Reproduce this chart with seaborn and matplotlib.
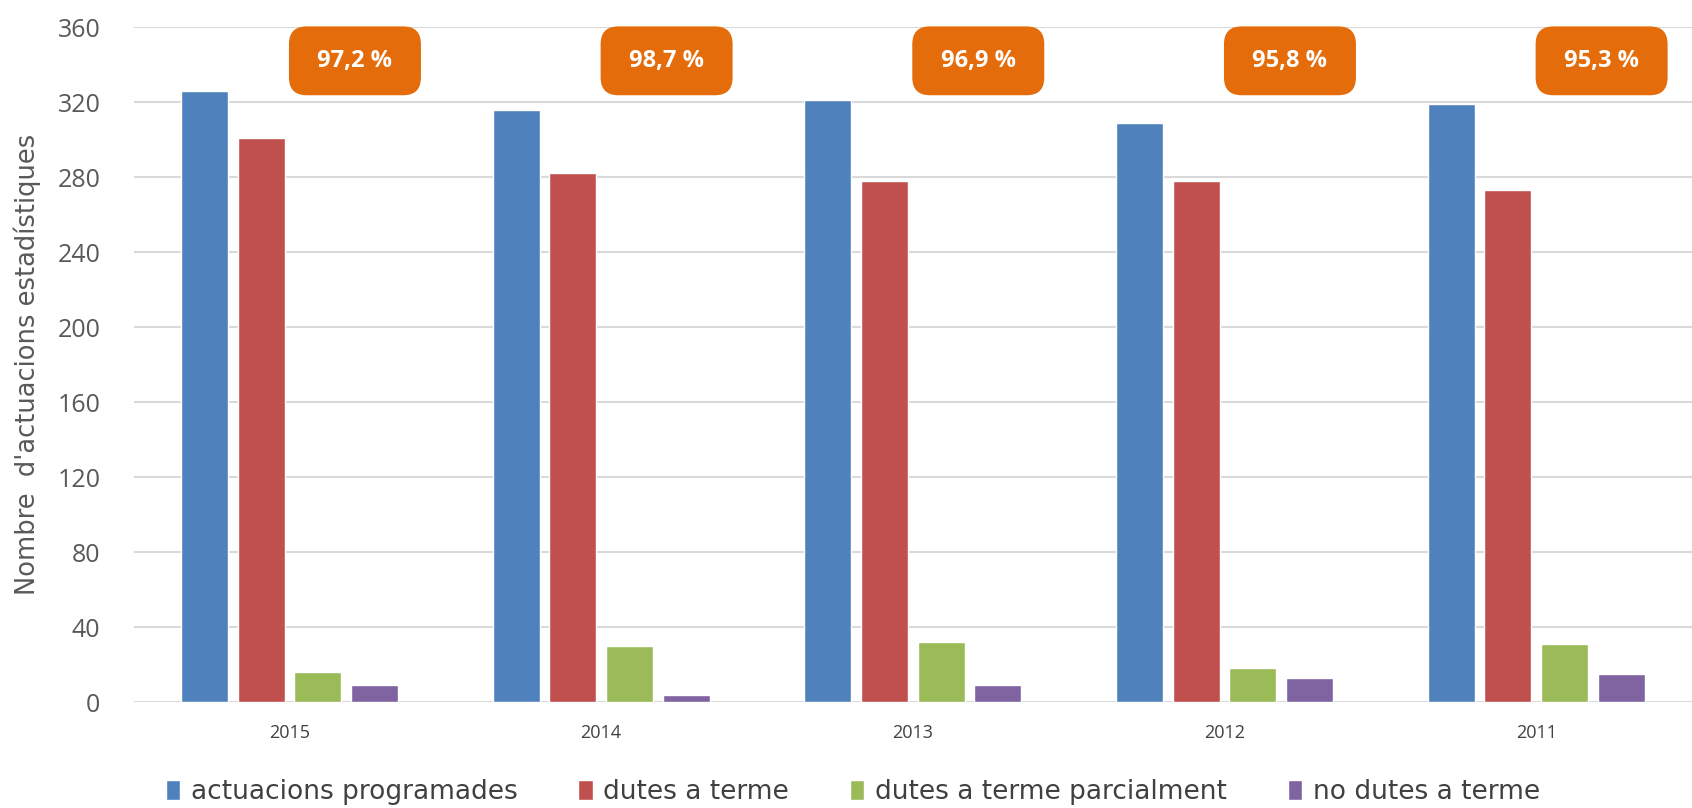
import pandas as pd
import matplotlib.pyplot as plt
import seaborn as sns

# ========== Data ==========
years = ["2015", "2014", "2013", "2012", "2011"]
programades = [326, 316, 321, 309, 319]
dutes = [301, 282, 278, 278, 273]
parcialment = [16, 30, 32, 18, 31]
no_dutes = [9, 4, 9, 13, 15]
percent_labels = ["97,2 %", "98,7 %", "96,9 %", "95,8 %", "95,3 %"]

series_names = ["actuacions programades", "dutes a terme",
                "dutes a terme parcialment", "no dutes a terme"]
colors = ["#4F81BD", "#C0504D", "#9BBB59", "#8064A2"]

rows = []
for name, vals in zip(series_names, [programades, dutes, parcialment, no_dutes]):
    for y, v in zip(years, vals):
        rows.append({"any": y, "serie": name, "valor": v})
df = pd.DataFrame(rows)

# ========== Plot ==========
sns.set_theme(style="white")
plt.rcParams['font.family'] = ['Open Sans', 'DejaVu Sans']

fig = plt.figure(figsize=(16.92, 8.08), dpi=100)
ax = fig.add_axes([0.079, 0.131, 0.921, 0.8355])

sns.barplot(data=df, x="any", y="valor", hue="serie", order=years,
            hue_order=series_names, palette=colors, width=0.727, gap=0.17,
            saturation=1, ax=ax, legend=True, zorder=3)

ax.set_ylim(0, 360)
ax.set_xlim(-0.5, 4.5)
ax.set_yticks(range(0, 361, 40))
ax.yaxis.grid(True, color="#D9D9D9", linewidth=1.5, zorder=0)
ax.set_axisbelow(True)
for s in ax.spines.values():
    s.set_visible(False)
ax.tick_params(axis="y", labelsize=18, labelcolor="#595959", length=0, pad=24)
ax.tick_params(axis="x", labelsize=13, labelcolor="#404040", length=0, pad=16)
ax.set_xlabel("")
ax.set_ylabel("Nombre  d'actuacions estadístiques", fontsize=18.5,
              color="#595959", family="DejaVu Sans", labelpad=12)

# orange callouts with the percentage
for i, txt in enumerate(percent_labels):
    ax.text(i + 0.21, 342, " " + txt + " ", ha="center", va="center",
            fontsize=17, fontweight="bold", color="white", clip_on=False,
            bbox=dict(boxstyle="round,pad=0.95,rounding_size=0.75",
                      fc="#E46C0A", ec="none"), zorder=5)

handles, labels = ax.get_legend_handles_labels()
ax.get_legend().remove()
fig.legend(handles, labels, loc="center", bbox_to_anchor=(0.504, 0.02),
           ncol=4, frameon=False, handlelength=0.55, handleheight=0.8,
           handletextpad=0.4, columnspacing=2.3,
           prop={"family": "DejaVu Sans", "size": 19}, labelcolor="#404040")

fig.savefig("out.png", dpi=100)
